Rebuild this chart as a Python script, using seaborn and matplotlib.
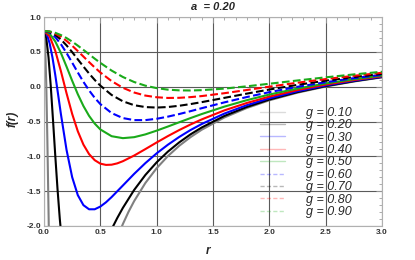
import numpy as np
import pandas as pd
import matplotlib
matplotlib.use('Agg')
import matplotlib.pyplot as plt
import seaborn as sns
from matplotlib.lines import Line2D
from matplotlib.ticker import MultipleLocator, FormatStrFormatter

# r samples and f(r) values (a = 0.20)
r_g10 = [0, 0.01, 0.02, 0.03, 0.04, 0.05, 0.1, 0.2, 0.3, 0.4, 0.5, 0.6, 0.65, 0.7, 0.75, 0.8,
         0.9, 1.0, 1.1, 1.2, 1.3, 1.4, 1.6, 1.8, 2.0, 2.25, 2.5, 2.75, 3.0]
f_g10 = [0.8, 0.603, 0.046, -0.782, -1.761, -2.778, -6.271, -6.355, -4.892, -3.765, -2.971, -2.399,
         -2.171, -1.972, -1.797, -1.643, -1.382, -1.170, -0.996, -0.849, -0.725, -0.618, -0.443,
         -0.306, -0.196, -0.086, 0.002, 0.074, 0.134]

r_g20 = [0, 0.02, 0.04, 0.06, 0.08, 0.1, 0.12, 0.14, 0.16, 0.2, 0.3, 0.4, 0.5, 0.55, 0.6, 0.65,
         0.7, 0.8, 0.9, 1.0, 1.1, 1.2, 1.3, 1.4, 1.6, 1.8, 2.0, 2.25, 2.5, 2.75, 3.0]
f_g20 = [0.8, 0.701, 0.423, 0.009, -0.481, -0.989, -1.470, -1.894, -2.247, -2.736, -3.040, -2.778,
         -2.401, -2.218, -2.046, -1.886, -1.740, -1.483, -1.267, -1.086, -0.932, -0.800, -0.685,
         -0.586, -0.421, -0.291, -0.185, -0.078, 0.008, 0.078, 0.138]

r_g30 = [0, 0.025, 0.05, 0.075, 0.1, 0.125, 0.15, 0.2, 0.25, 0.3, 0.35, 0.4, 0.45, 0.5, 0.55,
         0.6, 0.7, 0.8, 0.9, 1.0, 1.1, 1.2, 1.3, 1.4, 1.6, 1.8, 2.0, 2.25, 2.5, 2.75, 3.0]
f_g30 = [0.8, 0.754, 0.622, 0.420, 0.168, -0.110, -0.393, -0.907, -1.299, -1.557, -1.701, -1.760,
         -1.760, -1.721, -1.660, -1.585, -1.419, -1.252, -1.097, -0.957, -0.833, -0.722, -0.623,
         -0.536, -0.387, -0.266, -0.167, -0.066, 0.017, 0.086, 0.143]

r_g40 = [0, 0.05, 0.1, 0.15, 0.2, 0.25, 0.3, 0.35, 0.4, 0.45, 0.5, 0.55, 0.6, 0.65, 0.7, 0.8,
         0.9, 1.0, 1.1, 1.2, 1.3, 1.4, 1.6, 1.8, 2.0, 2.25, 2.5, 2.75, 3.0]
f_g40 = [0.8, 0.724, 0.515, 0.223, -0.094, -0.391, -0.640, -0.832, -0.968, -1.055, -1.105, -1.123,
         -1.120, -1.101, -1.070, -0.989, -0.896, -0.801, -0.709, -0.623, -0.543, -0.470, -0.341,
         -0.234, -0.143, -0.048, 0.030, 0.095, 0.151]

r_wide = [0, 0.05, 0.1, 0.15, 0.2, 0.25, 0.3, 0.35, 0.4, 0.45, 0.5, 0.6, 0.7, 0.8, 0.9, 1.0,
          1.1, 1.2, 1.3, 1.4, 1.6, 1.8, 2.0, 2.25, 2.5, 2.75, 3.0]
f_g50 = [0.8, 0.761, 0.649, 0.484, 0.288, 0.085, -0.108, -0.278, -0.419, -0.530, -0.614, -0.711,
         -0.739, -0.725, -0.685, -0.631, -0.572, -0.511, -0.451, -0.393, -0.287, -0.194, -0.113,
         -0.027, 0.046, 0.107, 0.160]
f_g60 = [0.8, 0.777, 0.711, 0.610, 0.484, 0.345, 0.204, 0.069, -0.053, -0.160, -0.250, -0.379,
         -0.451, -0.480, -0.480, -0.461, -0.430, -0.393, -0.352, -0.309, -0.226, -0.149, -0.079,
         -0.002, 0.064, 0.122, 0.171]
f_g70 = [0.8, 0.786, 0.743, 0.677, 0.593, 0.496, 0.392, 0.289, 0.189, 0.097, 0.015, -0.119,
         -0.210, -0.266, -0.293, -0.300, -0.292, -0.274, -0.250, -0.222, -0.161, -0.100, -0.041,
         0.026, 0.086, 0.138, 0.184]
f_g80 = [0.8, 0.790, 0.762, 0.717, 0.657, 0.588, 0.511, 0.432, 0.353, 0.276, 0.204, 0.080,
         -0.016, -0.084, -0.128, -0.152, -0.162, -0.160, -0.150, -0.135, -0.094, -0.048, 0.000,
         0.057, 0.109, 0.156, 0.199]
f_g90 = [0.8, 0.793, 0.773, 0.741, 0.698, 0.647, 0.589, 0.528, 0.465, 0.402, 0.342, 0.231,
         0.139, 0.067, 0.014, -0.021, -0.043, -0.053, -0.055, -0.050, -0.028, 0.005, 0.042,
         0.089, 0.134, 0.176, 0.214]

g_labels = ['0.10', '0.20', '0.30', '0.40', '0.50', '0.60', '0.70', '0.80', '0.90']
curves = [(r_g10, f_g10), (r_g20, f_g20), (r_g30, f_g30), (r_g40, f_g40), (r_wide, f_g50),
          (r_wide, f_g60), (r_wide, f_g70), (r_wide, f_g80), (r_wide, f_g90)]
colors = ['#808080', 'black', '#0000ff', '#ff0000', '#1aaa1a',
          '#0000ff', 'black', '#ff0000', '#1aaa1a']
styles = ['-'] * 5 + ['--'] * 4

sns.set_theme(style='white')
plt.rcParams['font.family'] = ['Liberation Sans', 'DejaVu Sans']
plt.rcParams['axes.unicode_minus'] = True

fig, ax = plt.subplots(figsize=(4.15, 2.6), dpi=100)
fig.subplots_adjust(left=44 / 415, right=382 / 415, bottom=1 - 226 / 260, top=1 - 17 / 260)

for (r, f), c, ls in zip(curves, colors, styles):
    line_kw = dict(dashes=(3.0, 1.6)) if ls == '--' else {}
    sns.lineplot(x=r, y=f, ax=ax, color=c, linewidth=1.5, linestyle=ls, sort=False,
                 legend=False, **line_kw)

ax.set_xlim(0, 3.0)
ax.set_ylim(-2.0, 1.0)

# grid and frame in Mathematica style
ax.grid(True, which='major', color='#5a5a5a', linewidth=0.8)
ax.set_axisbelow(True)
for sp in ax.spines.values():
    sp.set_color('#b0b0b0')
    sp.set_linewidth(0.8)

ax.xaxis.set_major_locator(MultipleLocator(0.5))
ax.xaxis.set_minor_locator(MultipleLocator(0.1))
ax.yaxis.set_major_locator(MultipleLocator(0.5))
ax.yaxis.set_minor_locator(MultipleLocator(0.1))
ax.xaxis.set_major_formatter(FormatStrFormatter('%.1f'))
ax.yaxis.set_major_formatter(FormatStrFormatter('%.1f'))
ax.tick_params(which='both', direction='in', top=True, right=True, color='#a0a0a0', width=0.6)
ax.tick_params(which='major', length=4, labelsize=6, pad=2)
ax.tick_params(which='minor', length=2)
for lab in ax.get_xticklabels() + ax.get_yticklabels():
    lab.set_fontweight('bold')
    lab.set_color('#333333')

ax.set_xlabel('r', fontsize=8.5, fontweight='bold', fontstyle='italic')
ax.set_ylabel('f(r)', fontsize=8.5, fontweight='bold', fontstyle='italic')
ax.xaxis.set_label_coords((208 - 44) / 338, -0.09)
ax.yaxis.set_label_coords(-0.075, (226 - 119) / 209)
ax.set_title('a  = 0.20', fontsize=8, fontweight='bold', fontstyle='italic', pad=5)

# faint legend lines, as in the reference
handles = [Line2D([0], [0], color=c, linestyle=ls, linewidth=1.0, alpha=0.28,
                  dashes=(3.0, 1.6) if ls == '--' else (None, None))
           for c, ls in zip(colors, styles)]
leg = ax.legend(handles, ['g = ' + g for g in g_labels], loc='upper left',
                bbox_to_anchor=(260 / 415, 1 - 107 / 260), bbox_transform=fig.transFigure,
                frameon=False, borderpad=0, borderaxespad=0, handlelength=2.0,
                handletextpad=1.7, labelspacing=0.03,
                prop=dict(family='Liberation Sans', style='italic', size=9))

fig.savefig('out.png', dpi=100)
